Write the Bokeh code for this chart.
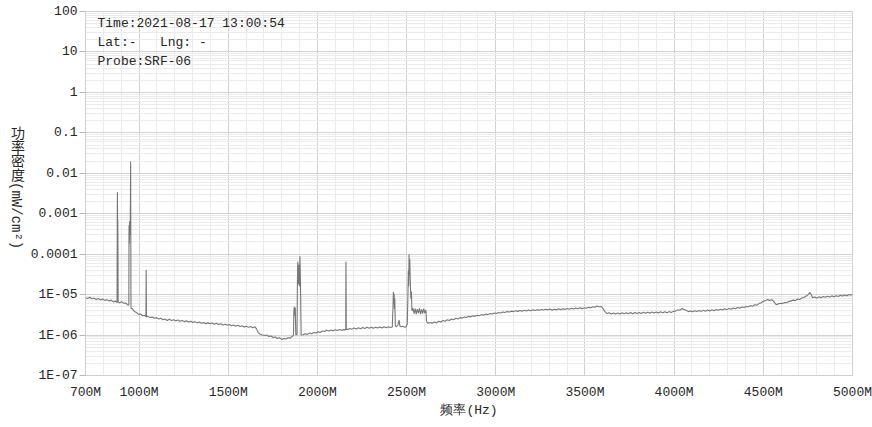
from bokeh.plotting import figure
from bokeh.models import FixedTicker, Label, ColumnDataSource, Div
from bokeh.layouts import row
from bokeh.embed import file_html
from bokeh.resources import INLINE

# ---------------- data (frequency in MHz, power density in units of 1e-6 mW/cm^2) -------------
band_700_1060 = [
    (700, 8.4), (712, 8.0), (724, 8.6), (736, 7.9), (748, 8.2), (760, 7.6), (772, 8.0), (784, 7.4),
    (796, 7.8), (808, 7.2), (820, 7.5), (832, 7.0), (844, 7.3), (856, 6.6), (868, 6.9), (876, 6.4),
    (877, 6.4), (878, 650), (879, 3400), (880, 450), (881, 700), (882, 160), (883, 6.6),
    (890, 6.3), (902, 6.7), (914, 6.1), (926, 6.2), (936, 5.6), (943, 5.5),
    (944, 520), (946, 180), (947, 650), (949, 300), (951, 600), (953, 19500), (955, 4.6),
    (962, 4.5), (970, 4.0), (980, 3.7), (990, 3.5), (1000, 3.2), (1010, 3.3), (1020, 3.0),
    (1030, 3.1), (1036, 2.9), (1039, 2.9), (1040, 41), (1042, 2.8), (1050, 2.9),
]
band_1060_1660 = [
    (1062, 2.7), (1074, 2.8), (1086, 2.6), (1098, 2.7), (1110, 2.5), (1122, 2.6), (1134, 2.4),
    (1146, 2.5), (1158, 2.3), (1170, 2.45), (1182, 2.3), (1194, 2.4), (1206, 2.25), (1218, 2.35),
    (1230, 2.2), (1242, 2.3), (1254, 2.15), (1266, 2.25), (1278, 2.1), (1290, 2.2), (1302, 2.05),
    (1314, 2.15), (1326, 2.0), (1338, 2.1), (1350, 1.95), (1362, 2.05), (1374, 1.9), (1386, 2.0),
    (1398, 1.9), (1410, 1.98), (1422, 1.85), (1434, 1.95), (1446, 1.82), (1458, 1.9), (1470, 1.78),
    (1482, 1.86), (1494, 1.74), (1506, 1.82), (1518, 1.7), (1530, 1.78), (1542, 1.66), (1554, 1.74),
    (1566, 1.62), (1578, 1.7), (1590, 1.58), (1602, 1.66), (1614, 1.55), (1626, 1.63), (1638, 1.52),
    (1650, 1.6),
]
band_1660_2160 = [
    (1660, 1.4), (1668, 1.15), (1680, 1.05), (1692, 1.0), (1704, 0.97), (1716, 1.0), (1728, 0.92),
    (1740, 0.95), (1752, 0.87), (1764, 0.9), (1776, 0.82), (1788, 0.86), (1800, 0.78), (1812, 0.82),
    (1824, 0.8), (1836, 0.86), (1848, 0.84), (1858, 0.92), (1866, 1.0),
    (1868, 3.5), (1870, 5.0), (1873, 3.0), (1876, 4.8), (1879, 1.0), (1886, 1.05),
    (1888, 20), (1890, 65), (1893, 18), (1896, 55), (1899, 16), (1902, 89), (1905, 25), (1909, 1.0),
    (1920, 1.02), (1932, 1.08), (1944, 1.04), (1956, 1.12), (1968, 1.08), (1980, 1.16), (1992, 1.12),
    (2004, 1.2), (2016, 1.16), (2028, 1.26), (2040, 1.22), (2052, 1.32), (2064, 1.26), (2076, 1.34),
    (2088, 1.28), (2100, 1.36), (2112, 1.3), (2124, 1.38), (2136, 1.32), (2148, 1.36), (2156, 1.34),
    (2159, 1.35), (2160, 65), (2161, 20), (2162, 1.4),
]
band_2160_2630 = [
    (2170, 1.38), (2182, 1.46), (2194, 1.4), (2206, 1.5), (2218, 1.42), (2230, 1.52), (2242, 1.44),
    (2254, 1.54), (2266, 1.46), (2278, 1.55), (2290, 1.47), (2302, 1.56), (2314, 1.48), (2326, 1.57),
    (2338, 1.49), (2350, 1.58), (2362, 1.5), (2374, 1.6), (2386, 1.52), (2398, 1.6), (2410, 1.54),
    (2420, 1.58), (2424, 5.0), (2426, 11.7), (2428, 6.0), (2430, 10.5), (2432, 4.5), (2434, 8.0),
    (2437, 1.7), (2444, 1.6), (2452, 1.8), (2458, 2.35), (2462, 1.7), (2470, 1.6), (2480, 1.65),
    (2490, 1.55), (2498, 1.6), (2504, 1.9),
    (2508, 12), (2510, 40), (2512, 16), (2514, 100), (2516, 30), (2518, 75), (2521, 20), (2524, 8),
    (2527, 12), (2530, 4.0), (2536, 4.6), (2542, 3.4), (2548, 4.5), (2554, 3.3), (2560, 4.4),
    (2566, 3.5), (2572, 4.6), (2578, 3.3), (2584, 4.3), (2590, 3.4), (2596, 4.5), (2602, 3.5),
    (2608, 4.2), (2612, 2.2), (2620, 1.95),
]
band_2630_3600 = [
    (2632, 2.05), (2644, 1.95), (2656, 2.1), (2668, 2.0), (2680, 2.2), (2692, 2.1), (2704, 2.3),
    (2716, 2.2), (2728, 2.38), (2740, 2.3), (2752, 2.5), (2764, 2.4), (2776, 2.6), (2788, 2.5),
    (2800, 2.7), (2812, 2.62), (2824, 2.8), (2836, 2.72), (2848, 2.9), (2860, 2.82), (2872, 3.0),
    (2884, 2.9), (2896, 3.1), (2908, 3.0), (2920, 3.2), (2932, 3.1), (2944, 3.3), (2956, 3.2),
    (2968, 3.4), (2980, 3.3), (2992, 3.5), (3004, 3.4), (3016, 3.6), (3028, 3.5), (3040, 3.7),
    (3052, 3.6), (3064, 3.8), (3076, 3.7), (3088, 3.9), (3100, 3.8), (3112, 4.0), (3124, 3.85),
    (3136, 4.05), (3148, 3.9), (3160, 4.1), (3172, 3.95), (3184, 4.15), (3196, 4.0), (3208, 4.2),
    (3220, 4.05), (3232, 4.25), (3244, 4.1), (3256, 4.3), (3268, 4.15), (3280, 4.35), (3292, 4.2),
    (3304, 4.4), (3316, 4.1), (3328, 4.35), (3340, 4.2), (3352, 4.45), (3364, 4.25), (3376, 4.5),
    (3388, 4.3), (3400, 4.55), (3412, 4.35), (3424, 4.6), (3436, 4.4), (3448, 4.65), (3460, 4.45),
    (3472, 4.7), (3484, 4.5), (3496, 4.75), (3508, 4.6), (3520, 4.85), (3532, 4.7), (3544, 5.0),
    (3556, 4.85), (3568, 5.2), (3580, 5.0), (3592, 5.1), (3600, 4.6),
]
band_3600_4400 = [
    (3612, 3.8), (3624, 3.4), (3636, 3.55), (3648, 3.3), (3660, 3.5), (3672, 3.3), (3684, 3.5),
    (3696, 3.3), (3708, 3.55), (3720, 3.35), (3732, 3.55), (3744, 3.35), (3756, 3.6), (3768, 3.35),
    (3780, 3.6), (3792, 3.4), (3804, 3.6), (3816, 3.4), (3828, 3.65), (3840, 3.45), (3852, 3.65),
    (3864, 3.45), (3876, 3.7), (3888, 3.5), (3900, 3.7), (3912, 3.5), (3924, 3.75), (3936, 3.55),
    (3948, 3.75), (3960, 3.55), (3972, 3.8), (3984, 3.6), (3996, 3.85), (4008, 3.9), (4020, 4.2),
    (4032, 4.1), (4044, 4.5), (4056, 4.3), (4068, 4.1), (4080, 3.8), (4092, 3.95), (4104, 3.75),
    (4116, 4.0), (4128, 3.8), (4140, 4.05), (4152, 3.85), (4164, 4.1), (4176, 3.9), (4188, 4.15),
    (4200, 3.95), (4212, 4.2), (4224, 4.0), (4236, 4.3), (4248, 4.1), (4260, 4.35), (4272, 4.15),
    (4284, 4.45), (4296, 4.25), (4308, 4.55), (4320, 4.35), (4332, 4.65), (4344, 4.45), (4356, 4.8),
    (4368, 4.6), (4380, 4.95), (4392, 4.8),
]
band_4400_5000 = [
    (4404, 5.1), (4416, 5.0), (4428, 5.3), (4440, 5.2), (4452, 5.6), (4464, 5.5), (4476, 6.0),
    (4488, 6.3), (4500, 6.9), (4512, 7.1), (4524, 7.6), (4536, 7.2), (4548, 7.5), (4560, 6.6),
    (4572, 5.6), (4584, 5.9), (4596, 6.1), (4608, 6.0), (4620, 6.4), (4632, 6.3), (4644, 6.8),
    (4656, 7.0), (4668, 7.3), (4680, 7.1), (4692, 7.8), (4704, 7.6), (4716, 8.3), (4728, 8.5),
    (4740, 9.2), (4752, 10.0), (4760, 11.3), (4768, 10.2), (4776, 8.4), (4788, 8.7), (4800, 8.2),
    (4812, 8.8), (4824, 8.4), (4836, 9.0), (4848, 8.6), (4860, 9.1), (4872, 8.7), (4884, 9.3),
    (4896, 8.9), (4908, 9.4), (4920, 9.0), (4932, 9.6), (4944, 9.2), (4956, 9.8), (4968, 9.4),
    (4980, 10.1), (4992, 9.7), (5000, 10.3),
]

y_tick_values = [1e-7, 1e-6, 1e-5, 1e-4, 1e-3, 1e-2, 1e-1, 1, 10, 100]
y_tick_labels = ["1E-07", "1E-06", "1E-05", "0.0001", "0.001", "0.01", "0.1", "1", "10", "100"]
x_tick_values = [700, 1000, 1500, 2000, 2500, 3000, 3500, 4000, 4500, 5000]
x_tick_labels = ["700M", "1000M", "1500M", "2000M", "2500M", "3000M", "3500M", "4000M", "4500M", "5000M"]

info_lines = ["Time:2021-08-17 13:00:54", "Lat:-\u00a0\u00a0\u00a0Lng: -", "Probe:SRF-06"]
x_title = "频率(Hz)"
y_title = "功率密度(mW/cm²)"

# ---------------- build ----------------
points = (band_700_1060 + band_1060_1660 + band_1660_2160 + band_2160_2630 +
          band_2630_3600 + band_3600_4400 + band_4400_5000)
freq = [f for f, _ in points]
power = [v * 1e-6 for _, v in points]
src = ColumnDataSource(dict(freq=freq, power=power))

MONO = "Liberation Mono"
TXT = "#262626"
TITLE_W = 26

p = figure(width=872 - TITLE_W, height=427, x_range=(700, 5000), y_range=(1e-7, 100),
           y_axis_type="log", output_backend="svg", toolbar_location=None,
           min_border_left=85 - TITLE_W, min_border_right=20, min_border_top=11, min_border_bottom=52)
p.background_fill_color = "white"
p.border_fill_color = "white"
p.outline_line_color = "#cfcfcf"

# ticks
y_minor = [m * d for d in y_tick_values[:-1] for m in range(2, 10)]
p.yaxis.ticker = FixedTicker(ticks=y_tick_values, minor_ticks=y_minor)
p.yaxis.major_label_overrides = {v: s for v, s in zip(y_tick_values, y_tick_labels)}
x_minor = list(range(700, 5001, 100))
p.xaxis.ticker = FixedTicker(ticks=x_tick_values, minor_ticks=x_minor)
p.xaxis.major_label_overrides = {v: s for v, s in zip(x_tick_values, x_tick_labels)}

for ax in (p.xaxis, p.yaxis):
    ax.major_label_text_font = MONO
    ax.major_label_text_font_size = "13px"
    ax.major_label_text_color = TXT
    ax.axis_line_color = "#cfcfcf"
    ax.minor_tick_line_color = None
    ax.minor_tick_out = 0

p.yaxis.major_tick_line_color = "#b5b5b5"
p.yaxis.major_tick_out = 6
p.yaxis.major_tick_in = 0
p.yaxis.major_label_standoff = 2

p.xaxis.major_tick_line_color = None
p.xaxis.major_tick_out = 0
p.xaxis.major_tick_in = 0
p.xaxis.major_label_standoff = 9
p.xaxis.axis_label = x_title
p.xaxis.axis_label_text_font = MONO
p.xaxis.axis_label_text_font_size = "13px"
p.xaxis.axis_label_text_font_style = "normal"
p.xaxis.axis_label_text_color = TXT
p.xaxis.axis_label_standoff = 0

for g in (p.xgrid, p.ygrid):
    g.grid_line_color = "#d2d2d2"
    g.grid_line_width = 1
    g.minor_grid_line_color = "#ebebeb"
    g.minor_grid_line_width = 1

# trace
p.line("freq", "power", source=src, line_color="#777777", line_width=1.1)

# info text (frame-relative screen units)
for i, t in enumerate(info_lines):
    p.add_layout(Label(x=12, y=352 - 19 * i, x_units="screen", y_units="screen", text=t,
                       text_font=MONO, text_font_size="13px", text_color=TXT,
                       text_align="left", text_baseline="middle"))

# vertical y-axis title (upright CJK, rotated latin) as real HTML text
ytitle = Div(
    text=('<div style="writing-mode:vertical-rl; font-family:\'Liberation Mono\', \'Noto Sans CJK SC\';'
          ' font-size:14px; line-height:%dpx; width:%dpx; margin-top:126px; margin-left:3px; color:%s;">%s</div>'
          % (TITLE_W, TITLE_W, TXT, y_title)),
    width=TITLE_W, height=427, margin=0)

layout = row(ytitle, p, spacing=0)
open("out.html", "w").write(file_html(layout, INLINE))
